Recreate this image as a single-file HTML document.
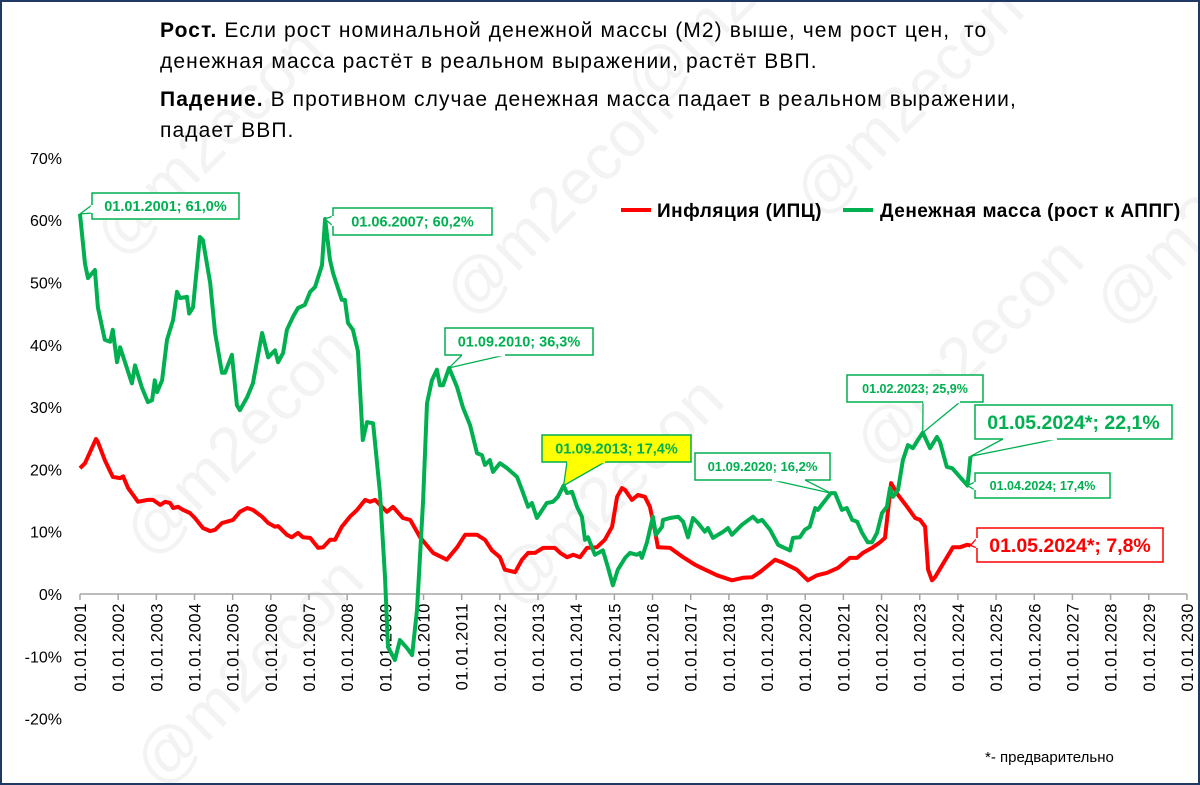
<!DOCTYPE html>
<html><head><meta charset="utf-8">
<style>
html,body{margin:0;padding:0;background:#fff}
#wrap{position:relative;width:1200px;height:785px;overflow:hidden;font-family:"Liberation Sans",sans-serif;box-sizing:border-box;border:2px solid #1f3864}
.t{position:absolute;left:158px;font-size:21px;letter-spacing:1.1px;color:#000;white-space:nowrap;z-index:2}
</style></head><body>
<div id="wrap">
<svg id="chart" width="1200" height="785" style="position:absolute;left:-2px;top:-2px;z-index:1"></svg>
<div class="t" style="top:17px"><b>Рост.</b> Если рост номинальной денежной массы (М2) выше, чем рост цен,&nbsp; то</div>
<div class="t" style="top:48px">денежная масса растёт в реальном выражении, растёт ВВП.</div>
<div class="t" style="top:86px"><b>Падение.</b> В противном случае денежная масса падает в реальном выражении,</div>
<div class="t" style="top:117px">падает ВВП.</div>
</div>
<script>
const yTicks=[70,60,50,40,30,20,10,0,-10,-20];
const xYears=[2001,2002,2003,2004,2005,2006,2007,2008,2009,2010,2011,2012,2013,2014,2015,2016,2017,2018,2019,2020,2021,2022,2023,2024,2025,2026,2027,2028,2029,2030];
const greenDates=[2001.0,2001.13,2001.21,2001.39,2001.47,2001.65,2001.79,2001.86,2001.97,2002.05,2002.36,2002.44,2002.62,2002.78,2002.89,2002.96,2003.02,2003.15,2003.28,2003.44,2003.54,2003.62,2003.80,2003.86,2003.96,2004.14,2004.22,2004.41,2004.54,2004.72,2004.80,2004.98,2005.11,2005.19,2005.38,2005.53,2005.77,2005.93,2006.11,2006.19,2006.32,2006.42,2006.58,2006.71,2006.89,2007.03,2007.16,2007.34,2007.42,2007.55,2007.63,2007.86,2007.94,2008.02,2008.15,2008.28,2008.41,2008.52,2008.68,2008.86,2008.99,2009.07,2009.25,2009.38,2009.57,2009.70,2009.83,2009.99,2010.09,2010.22,2010.35,2010.43,2010.51,2010.67,2010.88,2011.03,2011.22,2011.40,2011.53,2011.61,2011.74,2011.82,2012.00,2012.19,2012.45,2012.58,2012.74,2012.84,2012.97,2013.23,2013.39,2013.52,2013.67,2013.76,2013.89,2014.02,2014.15,2014.23,2014.31,2014.49,2014.70,2014.83,2014.96,2015.09,2015.28,2015.41,2015.59,2015.67,2015.72,2015.85,2016.01,2016.09,2016.25,2016.27,2016.46,2016.67,2016.80,2016.93,2017.06,2017.19,2017.37,2017.45,2017.58,2017.85,2017.98,2018.08,2018.34,2018.63,2018.76,2018.87,2019.08,2019.29,2019.42,2019.60,2019.68,2019.86,2019.99,2020.12,2020.26,2020.33,2020.67,2020.78,2020.96,2021.09,2021.23,2021.36,2021.49,2021.64,2021.75,2021.88,2022.01,2022.14,2022.22,2022.30,2022.43,2022.56,2022.69,2022.82,2022.95,2023.08,2023.27,2023.45,2023.53,2023.71,2023.85,2024.25,2024.33];
const greenValues=[61,53,50.7,52,46,40.8,40.5,42.4,37.2,39.6,33.8,36.7,33.2,30.8,31.1,34.3,32.4,34.3,40.8,44,48.5,47.5,47.7,45,46,57.3,56.8,49.9,41.9,35.5,35.5,38.4,30.3,29.5,31.6,33.8,41.9,38,39.1,37.2,38.7,42.4,44.5,45.9,46.4,48.5,49.3,52.8,60.2,53.6,51.5,47.2,47.2,43.5,42.4,39,24.7,27.6,27.4,16.2,2.7,-8.5,-10.6,-7.4,-8.7,-9.8,-2.6,15,30.6,34.3,36,33.5,33.5,36.3,33.2,30,27.1,22.6,22.3,20.7,21.5,19.6,21,20.2,18.8,16.7,14,14.6,12.2,14.6,14.8,15.6,17.4,16.2,16.4,14,12.4,8.7,9.1,6.3,7,4.3,1.4,3.9,5.8,6.6,6.3,6.6,5.8,8.2,12.4,9.5,10.8,11.9,12.2,12.4,11.6,9.1,12.2,11.4,10,10.6,9,10,10.6,9.5,11.1,12.4,11.6,11.9,10.3,7.9,7.5,7,9,9.1,10.3,10.8,13.8,13.5,16.2,16.2,13.5,13.8,11.9,11.6,9.8,8.3,8.3,9.8,13,14,17,15.6,16.7,21.5,23.9,23.4,24.7,25.9,23.4,25.2,24.4,20.4,20.2,17.4,22.1];
const redDates=[2001.0,2001.13,2001.42,2001.47,2001.65,2001.86,2002.05,2002.13,2002.26,2002.39,2002.52,2002.76,2002.91,2003.10,2003.23,2003.36,2003.44,2003.57,2003.70,2003.88,2004.01,2004.22,2004.41,2004.54,2004.72,2005.01,2005.19,2005.38,2005.53,2005.77,2005.93,2006.11,2006.19,2006.42,2006.55,2006.71,2006.84,2007.03,2007.24,2007.37,2007.55,2007.68,2007.86,2008.07,2008.26,2008.47,2008.60,2008.73,2009.04,2009.20,2009.46,2009.65,2009.91,2010.25,2010.61,2010.88,2011.09,2011.40,2011.61,2011.79,2012.00,2012.13,2012.40,2012.58,2012.74,2012.92,2013.13,2013.44,2013.58,2013.76,2013.92,2014.10,2014.28,2014.54,2014.75,2014.94,2015.07,2015.20,2015.28,2015.46,2015.62,2015.80,2015.93,2016.06,2016.14,2016.46,2016.80,2017.11,2017.24,2017.69,2018.08,2018.37,2018.61,2018.81,2019.21,2019.39,2019.78,2020.07,2020.31,2020.57,2020.86,2021.17,2021.36,2021.51,2021.75,2021.96,2022.09,2022.25,2022.43,2022.67,2022.88,2023.01,2023.14,2023.22,2023.32,2023.40,2023.87,2024.05,2024.24,2024.33];
const redValues=[20.2,21,24.9,24.4,21.5,18.8,18.6,18.9,17,15.9,14.8,15.1,15.1,14.3,14.8,14.6,13.8,14,13.5,13,12.2,10.6,10.1,10.3,11.4,11.9,13.2,13.8,13.5,12.4,11.4,10.8,10.9,9.5,9.1,9.8,9.1,9,7.4,7.5,8.7,8.7,10.8,12.4,13.5,15.1,14.8,15.1,13.2,14,12.2,11.9,9.1,6.6,5.5,7.5,9.5,9.5,8.7,7,5.9,3.9,3.5,5.5,6.6,6.6,7.4,7.4,6.6,5.9,6.3,5.9,7.4,7.5,8.7,10.8,15.6,17,16.7,15.1,15.9,15.6,14,10.3,7.5,7.4,5.9,4.7,4.3,3,2.2,2.6,2.7,3.5,5.5,5.1,3.9,2.2,3,3.4,4.2,5.8,5.8,6.6,7.4,8.3,9,17.8,15.9,14,12.2,11.9,10.8,3.9,2.2,2.7,7.5,7.5,7.9,7.8];

const NS='http://www.w3.org/2000/svg';
const svg=document.getElementById('chart');
const xs=y=>80+(y-2001)*38.17;
const ys=v=>594-v*6.23;
function mk(tag,attrs,parent){const e=document.createElementNS(NS,tag);for(const k in attrs)e.setAttribute(k,attrs[k]);(parent||svg).appendChild(e);return e;}

// watermarks
const wm=[[120,260],[470,320],[820,220],[150,560],[520,610],[880,470],[1120,330],[160,790],[650,110]];
wm.forEach(p=>{const t=mk('text',{x:p[0],y:p[1],'font-size':64,fill:'#f3f3f3',transform:'rotate(-45 '+p[0]+' '+p[1]+')','font-family':'Liberation Sans, sans-serif'});t.textContent='@m2econ';

});

// y labels
yTicks.forEach(v=>{const t=mk('text',{x:62,y:ys(v)+6,'text-anchor':'end','font-size':16,fill:'#000','font-family':'Liberation Sans, sans-serif'});t.textContent=v+'%';

});

// x axis
const ax=mk('line',{x1:xs(2001),x2:xs(2030),y1:ys(0),y2:ys(0),stroke:'#a6a6a6','stroke-width':1.5});


xYears.forEach(y=>{const tk=mk('line',{x1:xs(y),x2:xs(y),y1:ys(0),y2:ys(0)+6,stroke:'#a6a6a6','stroke-width':1.5});


const X=xs(y)+6,Y=603;const t=mk('text',{x:X,y:Y,'text-anchor':'end','font-size':16.5,'letter-spacing':0.6,fill:'#000','font-family':'Liberation Sans, sans-serif',transform:'rotate(-90 '+X+' '+Y+')'});t.textContent='01.01.'+y;

});

function line(d,v,color,name){let s='';for(let i=0;i<d.length;i++)s+=(i?'L':'M')+xs(d[i]).toFixed(1)+' '+ys(v[i]).toFixed(1);
const p=mk('path',{d:s,fill:'none',stroke:color,'stroke-width':4,'stroke-linejoin':'round'});

}
line(redDates,redValues,'#ff0000','inflation-line');
line(greenDates,greenValues,'#00b050','money-supply-line');

// callouts
function callout(bx,by,bw,bh,txt,fs,color,fill,gi,dates,vals,ax1,ax2,name){
 const px=xs(dates[gi]),py=ys(vals[gi]);
 const g=mk('g',{});
 
 
 mk('polygon',{points:ax1[0]+','+ax1[1]+' '+px+','+py+' '+ax2[0]+','+ax2[1],fill:fill,stroke:color,'stroke-width':1.3},g);
 mk('rect',{x:bx,y:by,width:bw,height:bh,fill:fill,stroke:color,'stroke-width':1.5},g);
 mk('line',{x1:ax1[0],y1:ax1[1],x2:ax2[0],y2:ax2[1],stroke:fill,'stroke-width':2.5},g);
 const t=mk('text',{x:bx+bw/2,y:by+bh/2+fs*0.36,'text-anchor':'middle','font-size':fs,'font-weight':'bold',fill:color,'font-family':'Liberation Sans, sans-serif'},g);t.textContent=txt;}
const G='#00b050',R='#ff0000';
const gi=d=>greenDates.indexOf(d);
callout(92,193,147,26,'01.01.2001; 61,0%',14.5,G,'#fff',gi(2001.0),greenDates,greenValues,[92,205],[92,213],'label-2001');
callout(333,208,159,27,'01.06.2007; 60,2%',14.5,G,'#fff',gi(2007.42),greenDates,greenValues,[333,216],[333,226],'label-2007');
callout(445,328,148,27,'01.09.2010; 36,3%',14.5,G,'#fff',gi(2010.67),greenDates,greenValues,[462,355],[505,355],'label-2010');
callout(542,435,149,27,'01.09.2013; 17,4%',14.5,G,'#ffff00',gi(2013.67),greenDates,greenValues,[567,462],[605,462],'label-2013');
callout(695,453,135,27,'01.09.2020; 16,2%',13,G,'#fff',gi(2020.67),greenDates,greenValues,[772,480],[805,480],'label-2020');
callout(847,375,136,27,'01.02.2023; 25,9%',12.5,G,'#fff',gi(2023.08),greenDates,greenValues,[923,402],[960,402],'label-2023');
callout(975,405,197,34,'01.05.2024*; 22,1%',19.5,G,'#fff',gi(2024.33),greenDates,greenValues,[1003,439],[1057,439],'label-2024-money');
callout(975,473,135,25,'01.04.2024; 17,4%',12.5,G,'#fff',gi(2024.25),greenDates,greenValues,[975,482],[975,490],'label-2024-apr');
callout(977,528,186,34,'01.05.2024*; 7,8%',19.5,R,'#fff',redDates.length-1,redDates,redValues,[977,538],[977,548],'label-2024-inflation');

// legend
const lg=mk('g',{});


mk('line',{x1:621,x2:651,y1:210,y2:210,stroke:R,'stroke-width':4},lg);
let t1=mk('text',{x:657,y:217,'font-size':19,'letter-spacing':0.5,'font-weight':'bold',fill:'#000','font-family':'Liberation Sans, sans-serif'},lg);t1.textContent='Инфляция (ИПЦ)';
mk('line',{x1:843,x2:873,y1:210,y2:210,stroke:G,'stroke-width':4},lg);
let t2=mk('text',{x:880,y:217,'font-size':19,'letter-spacing':0.5,'font-weight':'bold',fill:'#000','font-family':'Liberation Sans, sans-serif'},lg);t2.textContent='Денежная масса (рост к АППГ)';

const fn=mk('text',{x:985,y:762,'font-size':15,fill:'#000','font-family':'Liberation Sans, sans-serif'});fn.textContent='*- предварительно';


</script>
</body></html>
